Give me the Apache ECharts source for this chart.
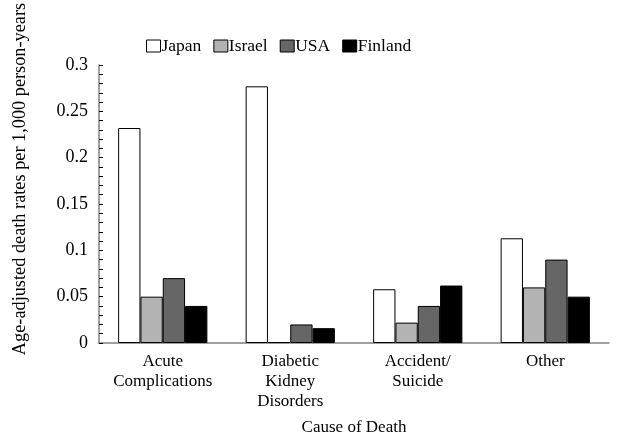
<!DOCTYPE html>
<html>
<head>
<meta charset="utf-8">
<script src="https://cdn.jsdelivr.net/npm/echarts@6/dist/echarts.min.js"></script>
<style>
    html, body { margin: 0; padding: 0; background: #fff; }
    #chart { width: 618px; height: 436px; }
</style>
</head>
<body>
<div id="chart"></div>
<script>
    var causes = ['Acute\nComplications', 'Diabetic\nKidney\nDisorders', 'Accident/\nSuicide', 'Other'];
    var japan = [0.232, 0.277, 0.058, 0.113];
    var israel = [0.05, 0.001, 0.022, 0.06];
    var usa = [0.07, 0.02, 0.04, 0.09];
    var finland = [0.04, 0.016, 0.062, 0.05];
    var yTicks = ['0', '0.05', '0.1', '0.15', '0.2', '0.25', '0.3'];

    var font = 'Liberation Serif';
    var colors = ['#ffffff', '#b3b3b3', '#666666', '#000000'];

    function barSeries(name, data, i) {
        return {
            name: name,
            type: 'bar',
            data: data,
            barGap: '0%',
            barCategoryGap: '30%',
            itemStyle: { color: colors[i], borderColor: '#000', borderWidth: 1 }
        };
    }

    var chart = echarts.init(document.getElementById('chart'));
    chart.setOption({
        animation: false,
        textStyle: { fontFamily: font, color: '#000' },
        legend: {
            top: 32,
            left: 141,
            icon: 'rect',
            itemWidth: 14,
            itemHeight: 12,
            itemGap: 12,
            itemStyle: { borderColor: '#000', borderWidth: 1 },
            textStyle: { fontFamily: font, fontSize: 17.5, color: '#000', padding: [0, 0, 0, -4] },
            data: ['Japan', 'Israel', 'USA', 'Finland']
        },
        grid: { left: 99, right: 9, top: 65, bottom: 93, outerBoundsMode: 'none' },
        xAxis: {
            type: 'category',
            data: causes,
            name: 'Cause of Death',
            nameLocation: 'middle',
            nameGap: 76,
            nameTextStyle: { fontFamily: font, fontSize: 17, color: '#000' },
            axisLine: { lineStyle: { color: '#808080', width: 1.5 } },
            axisTick: { show: false },
            axisLabel: { fontFamily: font, fontSize: 17, color: '#000', lineHeight: 20, margin: 9, interval: 0 }
        },
        yAxis: {
            type: 'value',
            min: 0,
            max: 0.3,
            interval: 0.05,
            splitLine: { show: false },
            axisLine: { show: true, lineStyle: { color: '#808080', width: 1.5 } },
            axisTick: { show: true, inside: true, length: 4, lineStyle: { color: '#000' } },
            minorTick: { show: true, splitNumber: 5, length: 4, lineStyle: { color: '#000' } },
            axisLabel: {
                fontFamily: font, fontSize: 18, color: '#000', margin: 11,
                formatter: function (v) { return yTicks[Math.round(v / 0.05)]; }
            }
        },
        graphic: [{
            type: 'text',
            x: 20,
            y: 179,
            rotation: Math.PI / 2,
            style: {
                text: 'Age-adjusted death rates per 1,000 person-years',
                fontFamily: font,
                fontSize: 18.3,
                fill: '#000',
                align: 'center',
                verticalAlign: 'middle'
            }
        }],
        series: [
            barSeries('Japan', japan, 0),
            barSeries('Israel', israel, 1),
            barSeries('USA', usa, 2),
            barSeries('Finland', finland, 3)
        ]
    });
</script>
</body>
</html>
